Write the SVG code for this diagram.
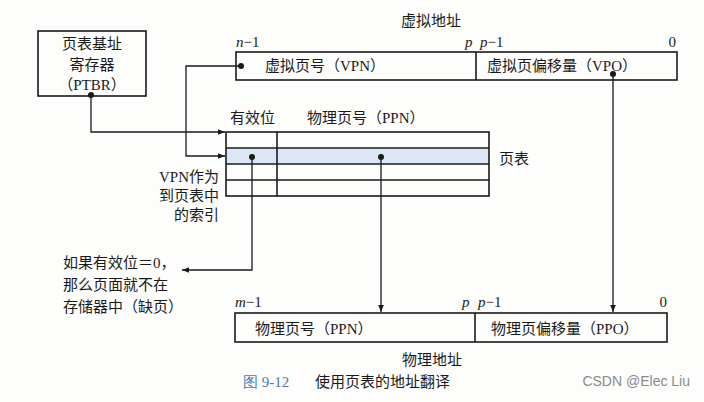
<svg xmlns="http://www.w3.org/2000/svg" width="704" height="402" viewBox="0 0 704 402">
<defs>
<style>
.t{font-family:"Liberation Serif","Noto Sans CJK SC",serif;font-size:15px;fill:#1a1a1a}
.i{font-family:"Liberation Serif",serif;font-style:italic;font-size:15px;fill:#1a1a1a}
.n{font-family:"Liberation Serif",serif;font-size:15px;fill:#1a1a1a}
.b{fill:none;stroke:#1a1a1a;stroke-width:1.6}
.c{fill:none;stroke:#1a1a1a;stroke-width:1.3}
.d{fill:#1a1a1a}
</style>
<marker id="ah" viewBox="0 0 10 8" refX="10" refY="4" markerWidth="7" markerHeight="5.6" markerUnits="userSpaceOnUse" orient="auto">
<path d="M0,0 L10,4 L0,8 z" fill="#1a1a1a"/>
</marker>
</defs>
<rect width="704" height="402" fill="#fdfdfc"/>

<g id="ptbr">
<rect class="b" x="38" y="31" width="108" height="65"/>
<text class="t" x="92" y="49" text-anchor="middle">页表基址</text>
<text class="t" x="92" y="70" text-anchor="middle">寄存器</text>
<text class="t" x="92" y="90" text-anchor="middle">（PTBR）</text>
</g>

<g id="virtual-address">
<text class="t" x="431" y="26" text-anchor="middle">虚拟地址</text>
<text class="i" x="236" y="47">n<tspan class="n" font-style="normal">−1</tspan></text>
<text class="i" x="465" y="47">p</text>
<text class="i" x="480" y="47">p<tspan font-style="normal">−1</tspan></text>
<text class="n" x="676" y="47" text-anchor="end">0</text>
<rect class="b" x="236" y="52" width="441" height="28"/>
<line class="b" x1="476" y1="52" x2="476" y2="80"/>
<text class="t" x="265" y="71">虚拟页号（VPN）</text>
<text class="t" x="487" y="71">虚拟页偏移量（VPO）</text>
</g>

<g id="page-table">
<text class="t" x="230" y="123">有效位</text>
<text class="t" x="307" y="123">物理页号（PPN）</text>
<rect x="226" y="148" width="263" height="16" fill="#dde6f4"/>
<rect class="b" x="226" y="132" width="263" height="64"/>
<line class="b" x1="226" y1="148" x2="489" y2="148"/>
<line class="b" x1="226" y1="164" x2="489" y2="164"/>
<line class="b" x1="226" y1="180" x2="489" y2="180"/>
<line class="b" x1="277" y1="132" x2="277" y2="196"/>
<text class="t" x="499" y="164">页表</text>
</g>

<g id="vpn-index-label">
<text class="t" x="219" y="182" text-anchor="end">VPN作为</text>
<text class="t" x="219" y="201" text-anchor="end">到页表中</text>
<text class="t" x="219" y="220" text-anchor="end">的索引</text>
</g>

<g id="page-fault-note">
<text class="t" x="63" y="268">如果有效位＝0，</text>
<text class="t" x="63" y="290">那么页面就不在</text>
<text class="t" x="63" y="312">存储器中（缺页）</text>
</g>

<g id="physical-address">
<text class="i" x="235" y="307">m<tspan font-style="normal">−1</tspan></text>
<text class="i" x="462" y="307">p</text>
<text class="i" x="478" y="307">p<tspan font-style="normal">−1</tspan></text>
<text class="n" x="667" y="307" text-anchor="end">0</text>
<rect class="b" x="235" y="313" width="432" height="29"/>
<line class="b" x1="475" y1="313" x2="475" y2="342"/>
<text class="t" x="255" y="334">物理页号（PPN）</text>
<text class="t" x="491" y="334">物理页偏移量（PPO）</text>
<text class="t" x="432" y="365" text-anchor="middle">物理地址</text>
</g>

<g id="connectors">
<path class="c" d="M91,95 V132 H225" marker-end="url(#ah)"/>
<path class="c" d="M241,66 H186 V156 H225" marker-end="url(#ah)"/>
<path class="c" d="M252,157 V270 H182" marker-end="url(#ah)"/>
<path class="c" d="M381,157 V312" marker-end="url(#ah)"/>
<path class="c" d="M613,74 V312" marker-end="url(#ah)"/>
<circle class="d" cx="91" cy="95" r="3"/>
<circle class="d" cx="241" cy="66" r="3"/>
<circle class="d" cx="252" cy="157" r="3"/>
<circle class="d" cx="381" cy="157" r="3"/>
<circle class="d" cx="613" cy="74" r="3"/>
</g>

<g id="caption">
<text x="243" y="387" style="font-family:'Liberation Serif',serif;font-size:15px;fill:#4f79b0">图 9-12</text>
<text class="t" x="315" y="387">使用页表的地址翻译</text>
<text x="690" y="386" text-anchor="end" style="font-family:'Liberation Sans','Noto Sans CJK SC',sans-serif;font-size:14px;fill:#8a8a8a">CSDN @Elec Liu</text>
</g>
</svg>
